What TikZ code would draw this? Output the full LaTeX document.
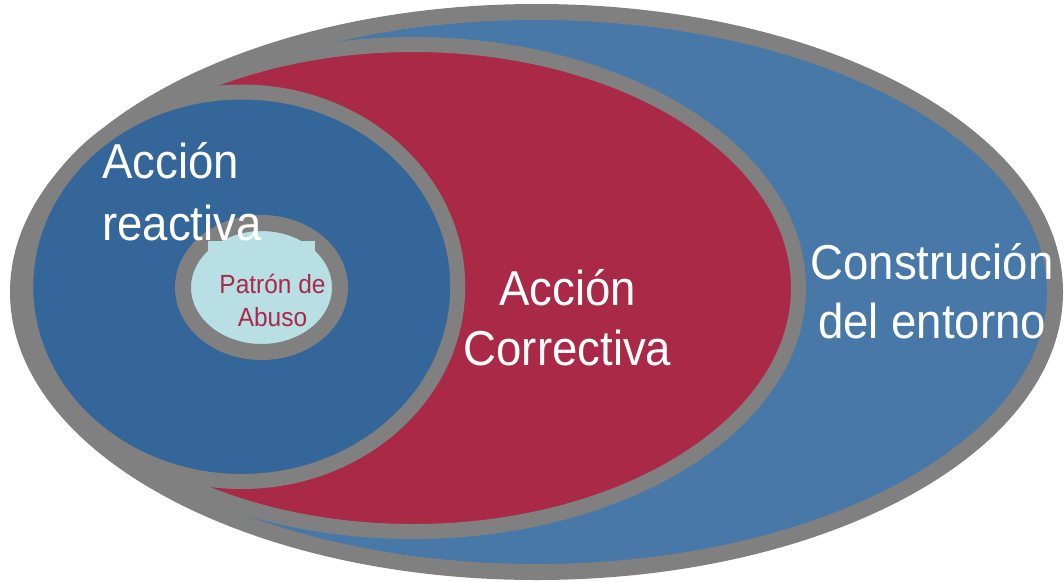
\documentclass[tikz,border=0pt]{standalone}
\usepackage{fontspec}
\newfontfamily\lblfont[FakeStretch=0.93]{Liberation Sans}
\definecolor{outerblue}{HTML}{4778A8}
\definecolor{innerblue}{HTML}{346699}
\definecolor{corrred}{HTML}{AA2946}
\definecolor{ringgray}{HTML}{808080}
\definecolor{coreblue}{HTML}{B8DFE3}
\definecolor{coretext}{HTML}{A8294A}
\tikzset{
  bigtxt/.style={inner sep=0pt, text=white, font=\lblfont\fontsize{49}{60}\selectfont},
  smalltxt/.style={inner sep=0pt, text=coretext, font=\lblfont\fontsize{26.3}{33}\selectfont},
}
\begin{document}
\begin{tikzpicture}[x=1pt,y=-1pt]
\useasboundingbox (0,0) rectangle (1064,581);
\fill[white] (0,0) rectangle (1064,581);
% outer ellipse
\fill[outerblue] (536.5,292) ellipse [x radius=518.5, y radius=280];
% red ellipse, clipped to outer
\begin{scope}
  \clip (536.5,292) ellipse [x radius=518.5, y radius=280];
  \path[draw=ringgray, line width=15pt, fill=corrred] (413,288) ellipse [x radius=385.5, y radius=243.5];
\end{scope}
\draw[ringgray, line width=16pt] (536.5,292) ellipse [x radius=518.5, y radius=280];
% inner blue ellipse
\path[draw=ringgray, line width=15pt, fill=innerblue] (241.75,286.75) ellipse [x radius=216, y radius=194.75];
% core ellipse
\path[draw=ringgray, line width=16pt, fill=coreblue] (261.5,287.5) ellipse [x radius=78.5, y radius=64.5];
\node[fill=coreblue, inner sep=0pt, minimum width=107pt, minimum height=65pt, anchor=north west] (corebox) at (208,241) {};
% texts
\node[smalltxt, anchor=base] (p1) at (272.5,293) {Patrón de};
\node[smalltxt, anchor=base] (p2) at (272.5,326) {Abuso};
\node[bigtxt, anchor=base west] (r1) at (102,178) {Acción};
\node[bigtxt, anchor=base west] (r2) at (102,240) {reactiva};
\node[bigtxt, anchor=base] (c1) at (567.5,305) {Acción};
\node[bigtxt, anchor=base] (c2) at (567.5,365) {Correctiva};
\node[bigtxt, anchor=base] (e1) at (932,279) {Construción};
\node[bigtxt, anchor=base] (e2) at (932,338) {del entorno};
\end{tikzpicture}
\end{document}
